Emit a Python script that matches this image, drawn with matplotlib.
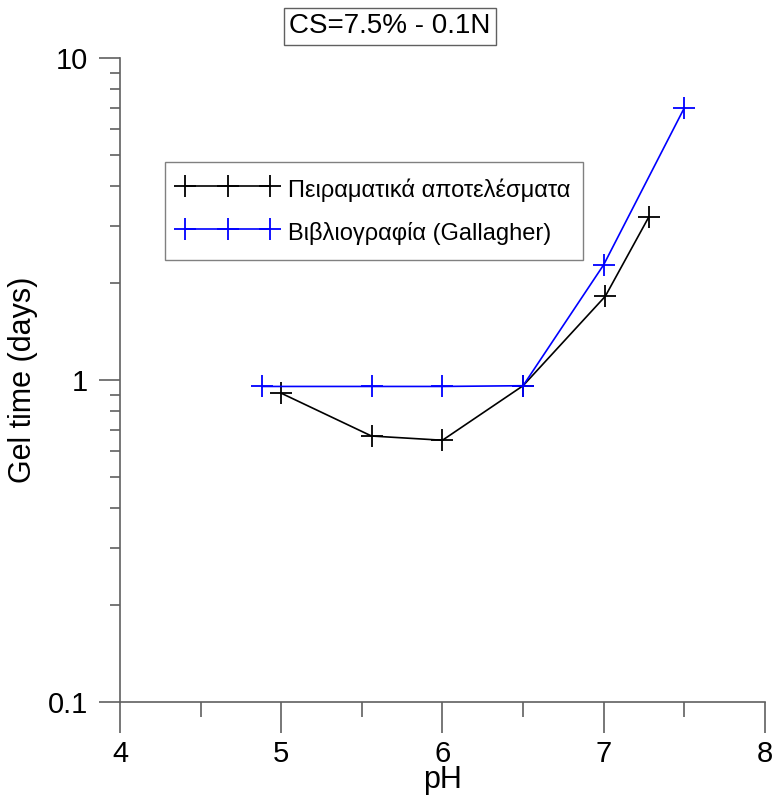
import numpy as np
import matplotlib.pyplot as plt
from matplotlib.ticker import LogLocator, FixedLocator, NullFormatter

plt.rcParams['font.family'] = ['Liberation Sans', 'DejaVu Sans']

# data
ph_exp = [5.00, 5.56, 6.00, 6.50, 7.01, 7.28]
gel_exp = [0.91, 0.67, 0.65, 0.96, 1.82, 3.21]

ph_lit = [4.88, 5.56, 6.00, 6.50, 7.00, 7.50]
gel_lit = [0.955, 0.955, 0.955, 0.96, 2.28, 7.0]

label_exp = 'Πειραματικά αποτελέσματα'
label_lit = 'Βιβλιογραφία (Gallagher)'
x_ticks = [4, 5, 6, 7, 8]

fig = plt.figure(figsize=(7.75, 7.98), dpi=100)
ax = fig.add_axes([0.1548, 0.1203, 0.8322, 0.8070])

ax.plot(ph_exp, gel_exp, color='black', lw=1.2, marker='+', ms=16, mew=1.3,
        label=label_exp)
ax.plot(ph_lit, gel_lit, color='#0000ff', lw=1.2, marker='+', ms=16, mew=1.3,
        label=label_lit)

ax.set_yscale('log')
ax.set_xlim(4, 8)
ax.set_ylim(0.1, 10)

ax.xaxis.set_major_locator(FixedLocator(x_ticks))
ax.xaxis.set_minor_locator(FixedLocator([4.5, 5.5, 6.5, 7.5]))
ax.yaxis.set_major_locator(LogLocator(base=10))
ax.yaxis.set_minor_locator(LogLocator(base=10, subs=np.arange(2, 10)))
ax.yaxis.set_minor_formatter(NullFormatter())
ax.set_yticks([0.1, 1, 10])
ax.set_yticklabels(['0.1', '1', '10'])

for s in ['top', 'right']:
    ax.spines[s].set_visible(False)
for s in ['left', 'bottom']:
    ax.spines[s].set_color('#606060')
    ax.spines[s].set_linewidth(1.2)

ax.tick_params(axis='x', which='major', direction='out', length=22, width=1.2,
               color='#606060', labelsize=21, pad=5)
ax.tick_params(axis='x', which='minor', direction='out', length=11, width=1.2,
               color='#606060')
ax.tick_params(axis='y', which='major', direction='out', length=15, width=1.2,
               color='#606060', labelsize=21, pad=8)
ax.tick_params(axis='y', which='minor', direction='out', length=7, width=1.2,
               color='#606060')

ax.set_xlabel('pH', fontsize=22, labelpad=-2)
ax.set_ylabel('Gel time (days)', fontsize=22, labelpad=7)

fig.text(0.503, 0.967, 'CS=7.5% - 0.1N', fontsize=20, ha='center', va='center',
         bbox=dict(boxstyle='square,pad=0.2', fc='white', ec='#606060', lw=1.0))

leg = ax.legend(loc='upper left', bbox_to_anchor=(0.07, 0.8385), numpoints=3,
                handlelength=4.2, fontsize=17, frameon=True, fancybox=False,
                edgecolor='#606060', borderpad=0.55, labelspacing=0.6,
                handletextpad=0.45, borderaxespad=0, handleheight=1.5)
leg.get_frame().set_linewidth(1.0)

fig.savefig('out.png', dpi=100)
